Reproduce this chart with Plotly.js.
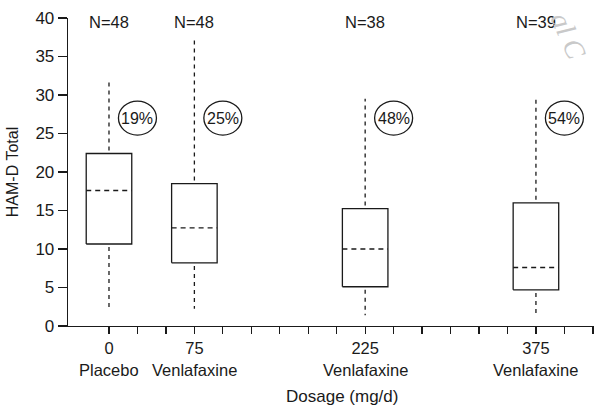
<!DOCTYPE html>
<html>
<head>
<meta charset="utf-8">
<script src="https://cdn.plot.ly/plotly-3.0.1.min.js"></script>
<style>html,body{margin:0;padding:0;background:#fff;}#chart{width:594px;height:406px;}</style>
</head>
<body>
<div id="chart"></div>
<script>
// ---- data ----
const dosages = [0, 75, 225, 375];
const groupNames = ["Placebo", "Venlafaxine", "Venlafaxine", "Venlafaxine"];
const lowerWhisker = [2.2, 2.25, 1.4, 1.6];
const q1 = [10.65, 8.2, 5.1, 4.7];
const medians = [17.6, 12.75, 10.0, 7.6];
const q3 = [22.4, 18.5, 15.25, 16.0];
const upperWhisker = [31.8, 37.1, 29.5, 29.5];
const nLabels = ["N=48", "N=48", "N=38", "N=39"];
const responseRates = ["19%", "25%", "48%", "54%"];

// ---- style ----
const FONT = "Liberation Sans, Arial, Helvetica, sans-serif";
const INK = "#1a1a1a";
const halfW = 20;      // half box width in dosage units
const circleOffset = 25;
const circleY = 27;
const nLabelY = 39.5;

const traces = [];
dosages.forEach((d, i) => {
  traces.push({
    type: "scatter", mode: "lines", showlegend: false, hoverinfo: "skip",
    x: [d - halfW, d + halfW, d + halfW, d - halfW, d - halfW],
    y: [q1[i], q1[i], q3[i], q3[i], q1[i]],
    line: {color: INK, width: 1.3}
  });
  traces.push({
    type: "scatter", mode: "lines", showlegend: false, hoverinfo: "skip",
    x: [d - halfW, d + halfW], y: [medians[i], medians[i]],
    line: {color: INK, width: 1.3, dash: "5px,4px"}
  });
  traces.push({
    type: "scatter", mode: "lines", showlegend: false, hoverinfo: "skip",
    x: [d, d, null, d, d],
    y: [q3[i] + 0.4, upperWhisker[i], null, q1[i] - 0.4, lowerWhisker[i]],
    line: {color: INK, width: 1.3, dash: "4px,4px"}
  });
});

const tickVals = [];
const tickText = [];
for (let v = 0; v <= 425; v += 25) {
  tickVals.push(v);
  tickText.push(dosages.indexOf(v) >= 0 ? String(v) : "");
}

const annotations = [];
const shapes = [];
dosages.forEach((d, i) => {
  annotations.push({
    x: d, y: nLabelY, xref: "x", yref: "y", text: nLabels[i], showarrow: false,
    font: {family: FONT, size: 16.5, color: INK}, xanchor: "center", yanchor: "middle"
  });
  annotations.push({
    x: d + circleOffset, y: circleY, xref: "x", yref: "y", text: responseRates[i], showarrow: false,
    font: {family: FONT, size: 16, color: INK}, xanchor: "center", yanchor: "middle"
  });
  shapes.push({
    type: "circle", xref: "x", yref: "y", xsizemode: "pixel", ysizemode: "pixel",
    xanchor: d + circleOffset, yanchor: circleY, x0: -19, x1: 19, y0: -17, y1: 17,
    line: {color: INK, width: 1.3}
  });
  annotations.push({
    x: d, y: (326 - 370) / 308, xref: "x", yref: "paper", text: groupNames[i], showarrow: false,
    font: {family: FONT, size: 16.5, color: INK}, xanchor: "center", yanchor: "middle"
  });
});
// x axis title
annotations.push({
  xref: "paper", yref: "paper", x: (342 - 68) / 526, y: (326 - 396) / 308,
  text: "Dosage (mg/d)", showarrow: false, xanchor: "center", yanchor: "middle",
  font: {family: FONT, size: 17, color: INK}
});
// faint watermark fragment
annotations.push({
  xref: "paper", yref: "paper", x: (568 - 68) / 526, y: (326 - 36) / 308,
  text: "al C", showarrow: false, textangle: 66, xanchor: "center", yanchor: "middle",
  font: {family: "Liberation Serif, serif", size: 28, color: "#c9c9c9", style: "italic"}
});

const layout = {
  width: 594, height: 406,
  margin: {l: 68, r: 0, t: 18, b: 80},
  paper_bgcolor: "#fff", plot_bgcolor: "#fff",
  showlegend: false,
  font: {family: FONT, size: 17, color: INK},
  xaxis: {
    range: [-36, 426], showgrid: false, zeroline: false,
    showline: true, linecolor: INK, linewidth: 1.3,
    ticks: "outside", ticklen: 7, tickwidth: 1.3, tickcolor: INK,
    tickmode: "array", tickvals: tickVals, ticktext: tickText,
    ticklabelstandoff: 0,
    tickfont: {family: FONT, size: 16.5, color: INK}
  },
  yaxis: {
    range: [0, 40], showgrid: false, zeroline: false,
    showline: true, linecolor: INK, linewidth: 1.3,
    ticks: "outside", ticklen: 9, tickwidth: 1.3, tickcolor: INK,
    tickmode: "array", tickvals: [0, 5, 10, 15, 20, 25, 30, 35, 40],
    tickfont: {family: FONT, size: 17, color: INK},
    title: {text: "HAM-D Total", font: {family: FONT, size: 16, color: INK}, standoff: 12}
  },
  annotations: annotations,
  shapes: shapes
};

Plotly.newPlot("chart", traces, layout, {displayModeBar: false, staticPlot: true});
</script>
</body>
</html>
